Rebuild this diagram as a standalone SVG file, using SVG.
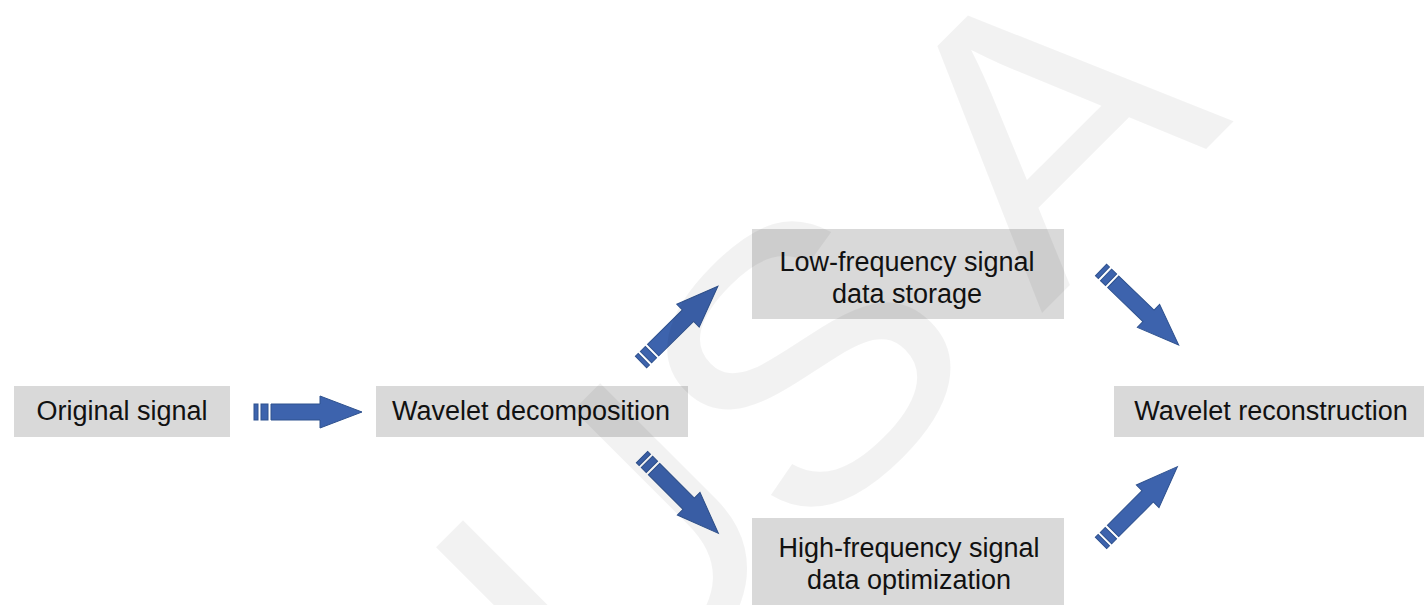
<svg xmlns="http://www.w3.org/2000/svg" width="1424" height="605" viewBox="0 0 1424 605">
  <style>
    .box { fill: #d9d9d9; }
    .label { font-family: "Liberation Sans", Arial, sans-serif; font-size: 27px; fill: #111; text-anchor: middle; }
    .arrow { fill: #3d63ad; stroke: #2f528f; stroke-width: 1; stroke-linejoin: miter; }
    .mark { font-family: "Liberation Sans", Arial, sans-serif; font-size: 382px; fill: #000; fill-opacity: 0.05; }
  </style>
  <defs>
    <!-- striped block arrow, tail at origin, pointing along +x -->
    <g id="striped-arrow">
      <rect x="0" y="-8" width="4" height="16"/>
      <rect x="7" y="-8" width="7" height="16"/>
      <path d="M17,-8 H66 V-16 L108,0 L66,16 V8 H17 Z"/>
    </g>
  </defs>

  <rect width="1424" height="605" fill="#ffffff"/>

  <g id="node-original">
    <rect class="box" x="14" y="386" width="216" height="51"/>
    <text class="label" x="122" y="420">Original signal</text>
  </g>

  <g id="node-decomposition">
    <rect class="box" x="376" y="386" width="312" height="51"/>
    <text class="label" x="531" y="420">Wavelet decomposition</text>
  </g>

  <g id="node-low">
    <rect class="box" x="752" y="229" width="312" height="90"/>
    <text class="label" x="907" y="271">Low-frequency signal</text>
    <text class="label" x="907" y="303">data storage</text>
  </g>

  <g id="node-high">
    <rect class="box" x="752" y="518" width="312" height="90"/>
    <text class="label" x="909" y="557">High-frequency signal</text>
    <text class="label" x="909" y="589">data optimization</text>
  </g>

  <g id="node-reconstruction">
    <rect class="box" x="1114" y="386" width="310" height="51"/>
    <text class="label" x="1271" y="420">Wavelet reconstruction</text>
  </g>

  <g id="connectors" class="arrow">
    <use href="#striped-arrow" transform="translate(254,412)"/>
    <use href="#striped-arrow" transform="translate(641,362) rotate(-44.6)"/>
    <use href="#striped-arrow" transform="translate(642,457) rotate(45)"/>
    <use href="#striped-arrow" transform="translate(1101,270) rotate(44)"/>
    <use href="#striped-arrow" transform="translate(1101,543) rotate(-45)"/>
  </g>

  <!-- faint diagonal watermark lettering, slightly widened -->
  <g id="watermark" transform="translate(677.5,677.5) rotate(-45) scale(1.07,1)">
    <text class="mark" x="-103 165 481" y="0">USA</text>
  </g>
</svg>
